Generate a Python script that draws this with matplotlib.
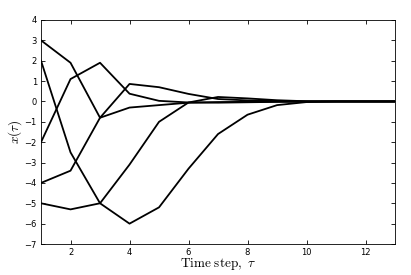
import matplotlib
matplotlib.use("Agg")
import matplotlib.pyplot as plt
import numpy as np

plt.rcParams['mathtext.fontset'] = 'cm'

tau = list(range(1, 14))
s1 = [3.0, 1.9, -0.8, -0.3, -0.18, -0.06, -0.03, -0.02, -0.01, 0.0, 0.0, 0.0, 0.0]
s2 = [-2.0, 1.1, 1.9, 0.38, 0.03, -0.05, -0.06, -0.04, -0.02, -0.01, 0.0, 0.0, 0.0]
s3 = [-4.0, -3.4, -0.8, 0.86, 0.7, 0.37, 0.12, 0.05, 0.02, 0.0, 0.0, 0.0, 0.0]
s4 = [2.0, -2.5, -5.0, -3.1, -1.0, -0.05, 0.22, 0.15, 0.06, 0.01, 0.0, 0.0, 0.0]
s5 = [-5.0, -5.3, -5.0, -6.0, -5.2, -3.3, -1.6, -0.65, -0.18, -0.03, 0.0, 0.0, 0.0]

fig = plt.figure(figsize=(4.11, 2.75), dpi=100)
ax = fig.add_axes([0.0998, 0.1127, 0.8614, 0.8146])
for s in [s1, s2, s3, s4, s5]:
    ax.plot(tau, s, color='k', lw=1.3)

ax.set_xlim(1, 13)
ax.set_ylim(-7, 4)
ax.set_xticks([2, 4, 6, 8, 10, 12])
ax.set_yticks(list(range(-7, 5)))
ax.tick_params(direction='in', top=True, right=True, labelsize=6, length=3, width=0.6, pad=3)
for sp in ax.spines.values():
    sp.set_linewidth(0.6)
ax.set_xlabel(r'$\mathrm{Time\ step,}\ \tau$', fontsize=9.5, labelpad=-1)
ax.set_ylabel(r'$x(\tau)$', fontsize=9.5, labelpad=0)

fig.savefig('out.png', dpi=100)
